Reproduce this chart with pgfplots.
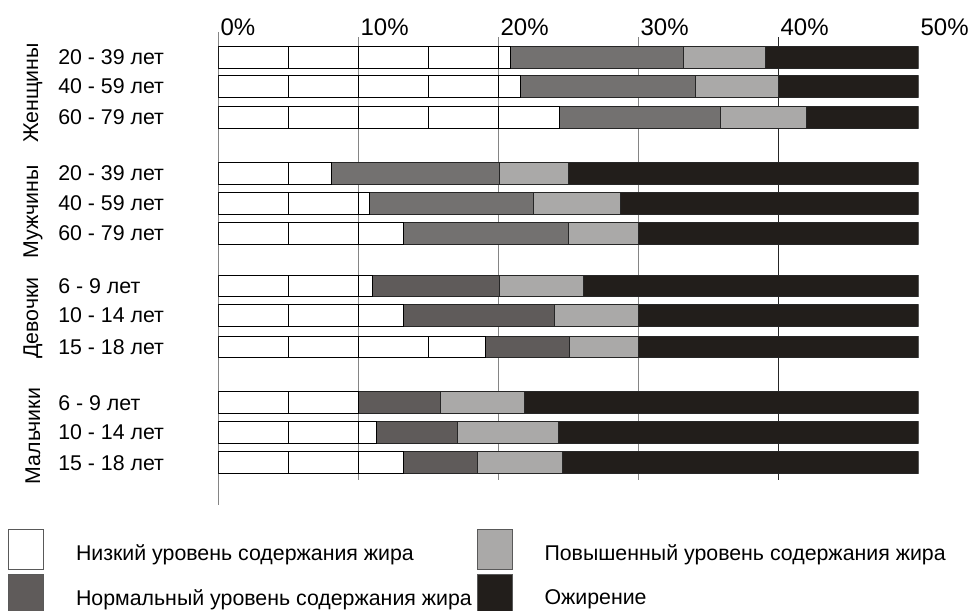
\documentclass[border=0pt]{standalone}
\usepackage{pgfplots}
\pgfplotsset{compat=1.18}
\usepackage{pgfplotstable}
\usepackage{fontspec}
\setmainfont{Liberation Sans}
\definecolor{cnorma}{HTML}{737170}
\definecolor{cnormc}{HTML}{5F5B5A}
\definecolor{chigh}{HTML}{AAA9A8}
\definecolor{cobese}{HTML}{221E1B}
\definecolor{cgrid}{HTML}{858585}

% pos = bar position, w = low, na/nc = normal (adults/children), e = elevated, o = obesity (%)
\pgfplotstableread{
pos     w     na    nc    e    o     cell
0       20.9  12.3  0     5.9  10.9  5
-0.97   21.6  12.5  0     5.9  10.0  5
-2.0    24.4  11.5  0     6.1  8.0   5
-3.87   8.1   12.0  0     4.9  25.0  5
-4.86   10.8  11.7  0     6.2  21.3  5
-5.86   13.2  11.8  0     5.0  20.0  5
-7.62   11.0  0     9.1   6.0  23.9  5
-8.6    13.2  0     10.8  6.0  20.0  5
-9.65   19.1  0     6.0   4.9  20.0  5
-11.51  10.0  0     5.9   6.0  28.1  5
-12.49  11.3  0     5.8   7.2  25.7  5
-13.51  13.2  0     5.3   6.1  25.4  5
}\data

\pgfplotsset{
  common/.style={
    at={(163.725pt,-24pt)}, anchor=north west,
    scale only axis, width=525pt, height=354.75pt,
    xmin=0, xmax=50, ymin=-14.917, ymax=0.85,
  },
  barax/.style={common, hide axis, xbar stacked, bar width=16.3pt},
  sw/.style={legend image code/.code={\draw[##1,draw=black!65,line width=0.75pt] (0pt,-12.3pt) rectangle (26.25pt,17.7pt);}},
}

\begin{document}
\begin{tikzpicture}
\useasboundingbox (0pt,0pt) rectangle (729.75pt,-457.5pt);

% axis 1: grid lines and tick labels
\begin{axis}[common, clip=false,
  axis line style={draw=none}, tick style={draw=none}, major tick length=0pt,
  xtick={0,10,20,30,40,50},
  xticklabels={0\%,10\%,20\%,30\%,40\%,50\%},
  xticklabel pos=upper,
  xticklabel style={anchor=base west, inner sep=0pt, xshift=1.5pt, yshift=-2.5pt, font=\fontsize{18}{20}\selectfont},
  ytick={0,-0.97,-2.0,-3.87,-4.86,-5.86,-7.62,-8.6,-9.65,-11.51,-12.49,-13.51},
  yticklabels={20 - 39 лет,40 - 59 лет,60 - 79 лет,20 - 39 лет,40 - 59 лет,60 - 79 лет,6 - 9 лет,10 - 14 лет,15 - 18 лет,6 - 9 лет,10 - 14 лет,15 - 18 лет},
  yticklabel style={anchor=west, inner sep=0pt, xshift=-120.2pt, font=\fontsize{16}{19}\selectfont},
]
\addplot[cgrid, line width=0.75pt, no marks] coordinates {(0,0.85) (0,-14.917)};
\addplot[cgrid, line width=0.75pt, no marks] coordinates {(10,0.683) (10,-14.083)};
\addplot[cgrid, line width=0.75pt, no marks] coordinates {(20,0.683) (20,-14.083)};
\addplot[cgrid, line width=0.75pt, no marks] coordinates {(30,0.683) (30,-14.083)};
\addplot[black!85, line width=0.75pt, no marks] coordinates {(40,0.683) (40,-14.083)};
\end{axis}

% axis 2: 5% cells behind the bars
\begin{axis}[barax]
\pgfplotsinvokeforeach{1,...,10}{
  \addplot[draw=black, fill=white, line width=0.75pt] table[x=cell,y=pos]{\data};
}
\end{axis}

% axis 3: data
\begin{axis}[barax,
  legend columns=2, transpose legend, legend cell align=left,
  legend style={at={(-0.3004,-0.0507)}, anchor=north west, draw=none, fill=none,
    inner sep=0pt, outer sep=0pt, row sep=3pt,
    font=\fontsize{16}{19}\selectfont,
    nodes={inner sep=0pt},
    /tikz/every odd column/.style={column sep=24pt},
    /tikz/every even column/.style={column sep=3.5pt}},
]
\addplot[sw, draw=black, fill=none, line width=0.75pt] table[x=w,y=pos]{\data};
\addplot[sw, draw=black!85, fill=cnorma, line width=0.75pt, forget plot] table[x=na,y=pos]{\data};
\addplot[sw, draw=black!85, fill=cnormc, line width=0.75pt] table[x=nc,y=pos]{\data};
\addplot[sw, draw=black!85, fill=chigh, line width=0.75pt] table[x=e,y=pos]{\data};
\addplot[sw, draw=black!85, fill=cobese, line width=0.75pt] table[x=o,y=pos]{\data};
\legend{Низкий уровень содержания жира, Нормальный уровень содержания жира, Повышенный уровень содержания жира, Ожирение}
\end{axis}

\node[rotate=90, font=\fontsize{16}{19}\selectfont] at (24.75pt,-69.75pt) {Женщины};
\node[rotate=90, font=\fontsize{16}{19}\selectfont] at (24.75pt,-159pt) {Мужчины};
\node[rotate=90, font=\fontsize{16}{19}\selectfont] at (24.75pt,-238.5pt) {Девочки};
\node[rotate=90, font=\fontsize{16}{19}\selectfont] at (24.75pt,-327pt) {Мальчики};
\end{tikzpicture}
\end{document}
